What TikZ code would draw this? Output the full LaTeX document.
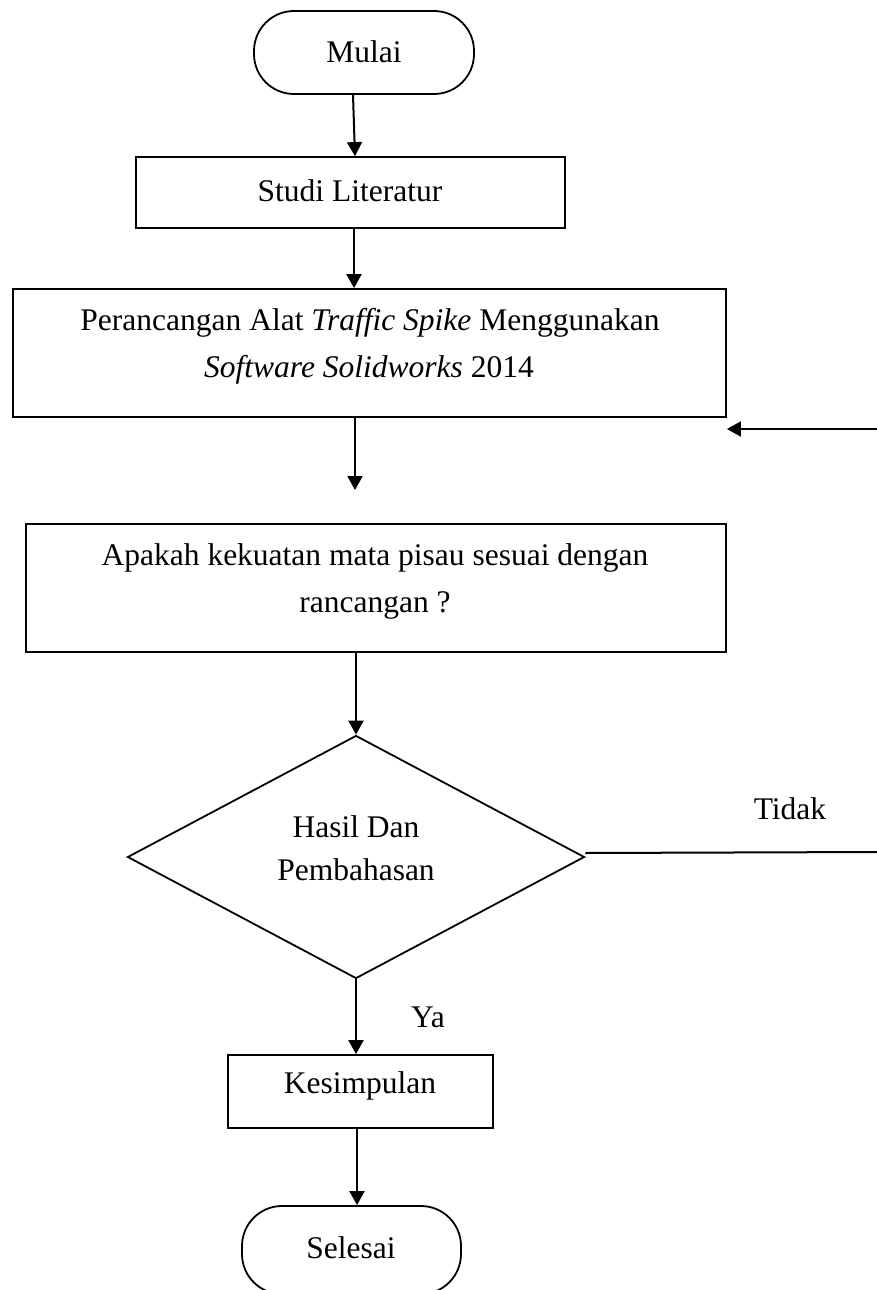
\documentclass[tikz,border=0pt]{standalone}
\usepackage{fontspec}
\setmainfont{Liberation Serif}
\usetikzlibrary{arrows.meta,shapes.geometric}
\begin{document}
\begin{tikzpicture}[x=1pt,y=-1pt,
  box/.style={draw,line width=1.8pt,inner sep=0pt},
  term/.style={box,rounded corners=40pt},
  txt/.style={font=\fontsize{31.5}{47}\selectfont,inner sep=0pt,anchor=base},
  arr/.style={line width=2pt,-{Triangle[length=14pt,width=15pt]}},
  ln/.style={line width=2pt}]
\useasboundingbox (0,0) rectangle (877,1290);
\clip (0,0) rectangle (877,1290);
% shapes
\node[term,minimum width=220pt,minimum height=83pt] (mulai) at (364,52.5) {};
\node[box,minimum width=429pt,minimum height=71pt] (studi) at (350.5,192.5) {};
\node[box,minimum width=713pt,minimum height=128pt] (peran) at (369.5,353) {};
\node[box,minimum width=700pt,minimum height=128pt] (apakah) at (376,588) {};
\node[draw,line width=1.8pt,diamond,inner sep=0pt,minimum width=457pt,minimum height=243pt] (dec) at (356,857) {};
\node[box,minimum width=265pt,minimum height=73pt] (kes) at (360.5,1091.5) {};
\node[term,minimum width=219pt,minimum height=88pt] (selesai) at (351.5,1250) {};
% texts
\node[txt] (tmulai) at (364,63) {Mulai};
\node[txt] (tstudi) at (350,201) {Studi Literatur};
\node[txt] (tper1) at (370,330) {Perancangan Alat \textit{Traffic Spike} Menggunakan};
\node[txt] (tper2) at (369,377) {\textit{Software Solidworks} 2014};
\node[txt] (tapa1) at (375,565) {Apakah kekuatan mata pisau sesuai dengan};
\node[txt] (tapa2) at (375,612) {rancangan ?};
\node[txt] (thasil1) at (356,837) {Hasil Dan};
\node[txt] (thasil2) at (356,880) {Pembahasan};
\node[txt] (ttidak) at (790,819) {Tidak};
\node[txt] (tya) at (428,1027) {Ya};
\node[txt] (tkes) at (360,1093) {Kesimpulan};
\node[txt] (tsel) at (351,1258) {Selesai};
% connectors
\coordinate (p2) at (355,490);
\coordinate (back) at (877,429);
\coordinate (tidakend) at (877,852);
\draw[arr] ([xshift=-11pt]mulai.south) -- ([xshift=4.5pt]studi.north);
\draw[arr] (studi.south -| 354,0) -- (peran.north -| 354,0);
\draw[arr] (peran.south -| p2) -- (p2);
\draw[arr] (back) -- (back -| peran.east);
\draw[arr] (apakah.south -| dec.north) -- (dec.north);
\draw[ln] ([yshift=4pt]dec.east) -- (tidakend);
\draw[arr] (dec.south) -- (dec.south |- kes.north);
\draw[arr] (kes.south -| 357,0) -- (selesai.north -| 357,0);
\end{tikzpicture}
\end{document}
